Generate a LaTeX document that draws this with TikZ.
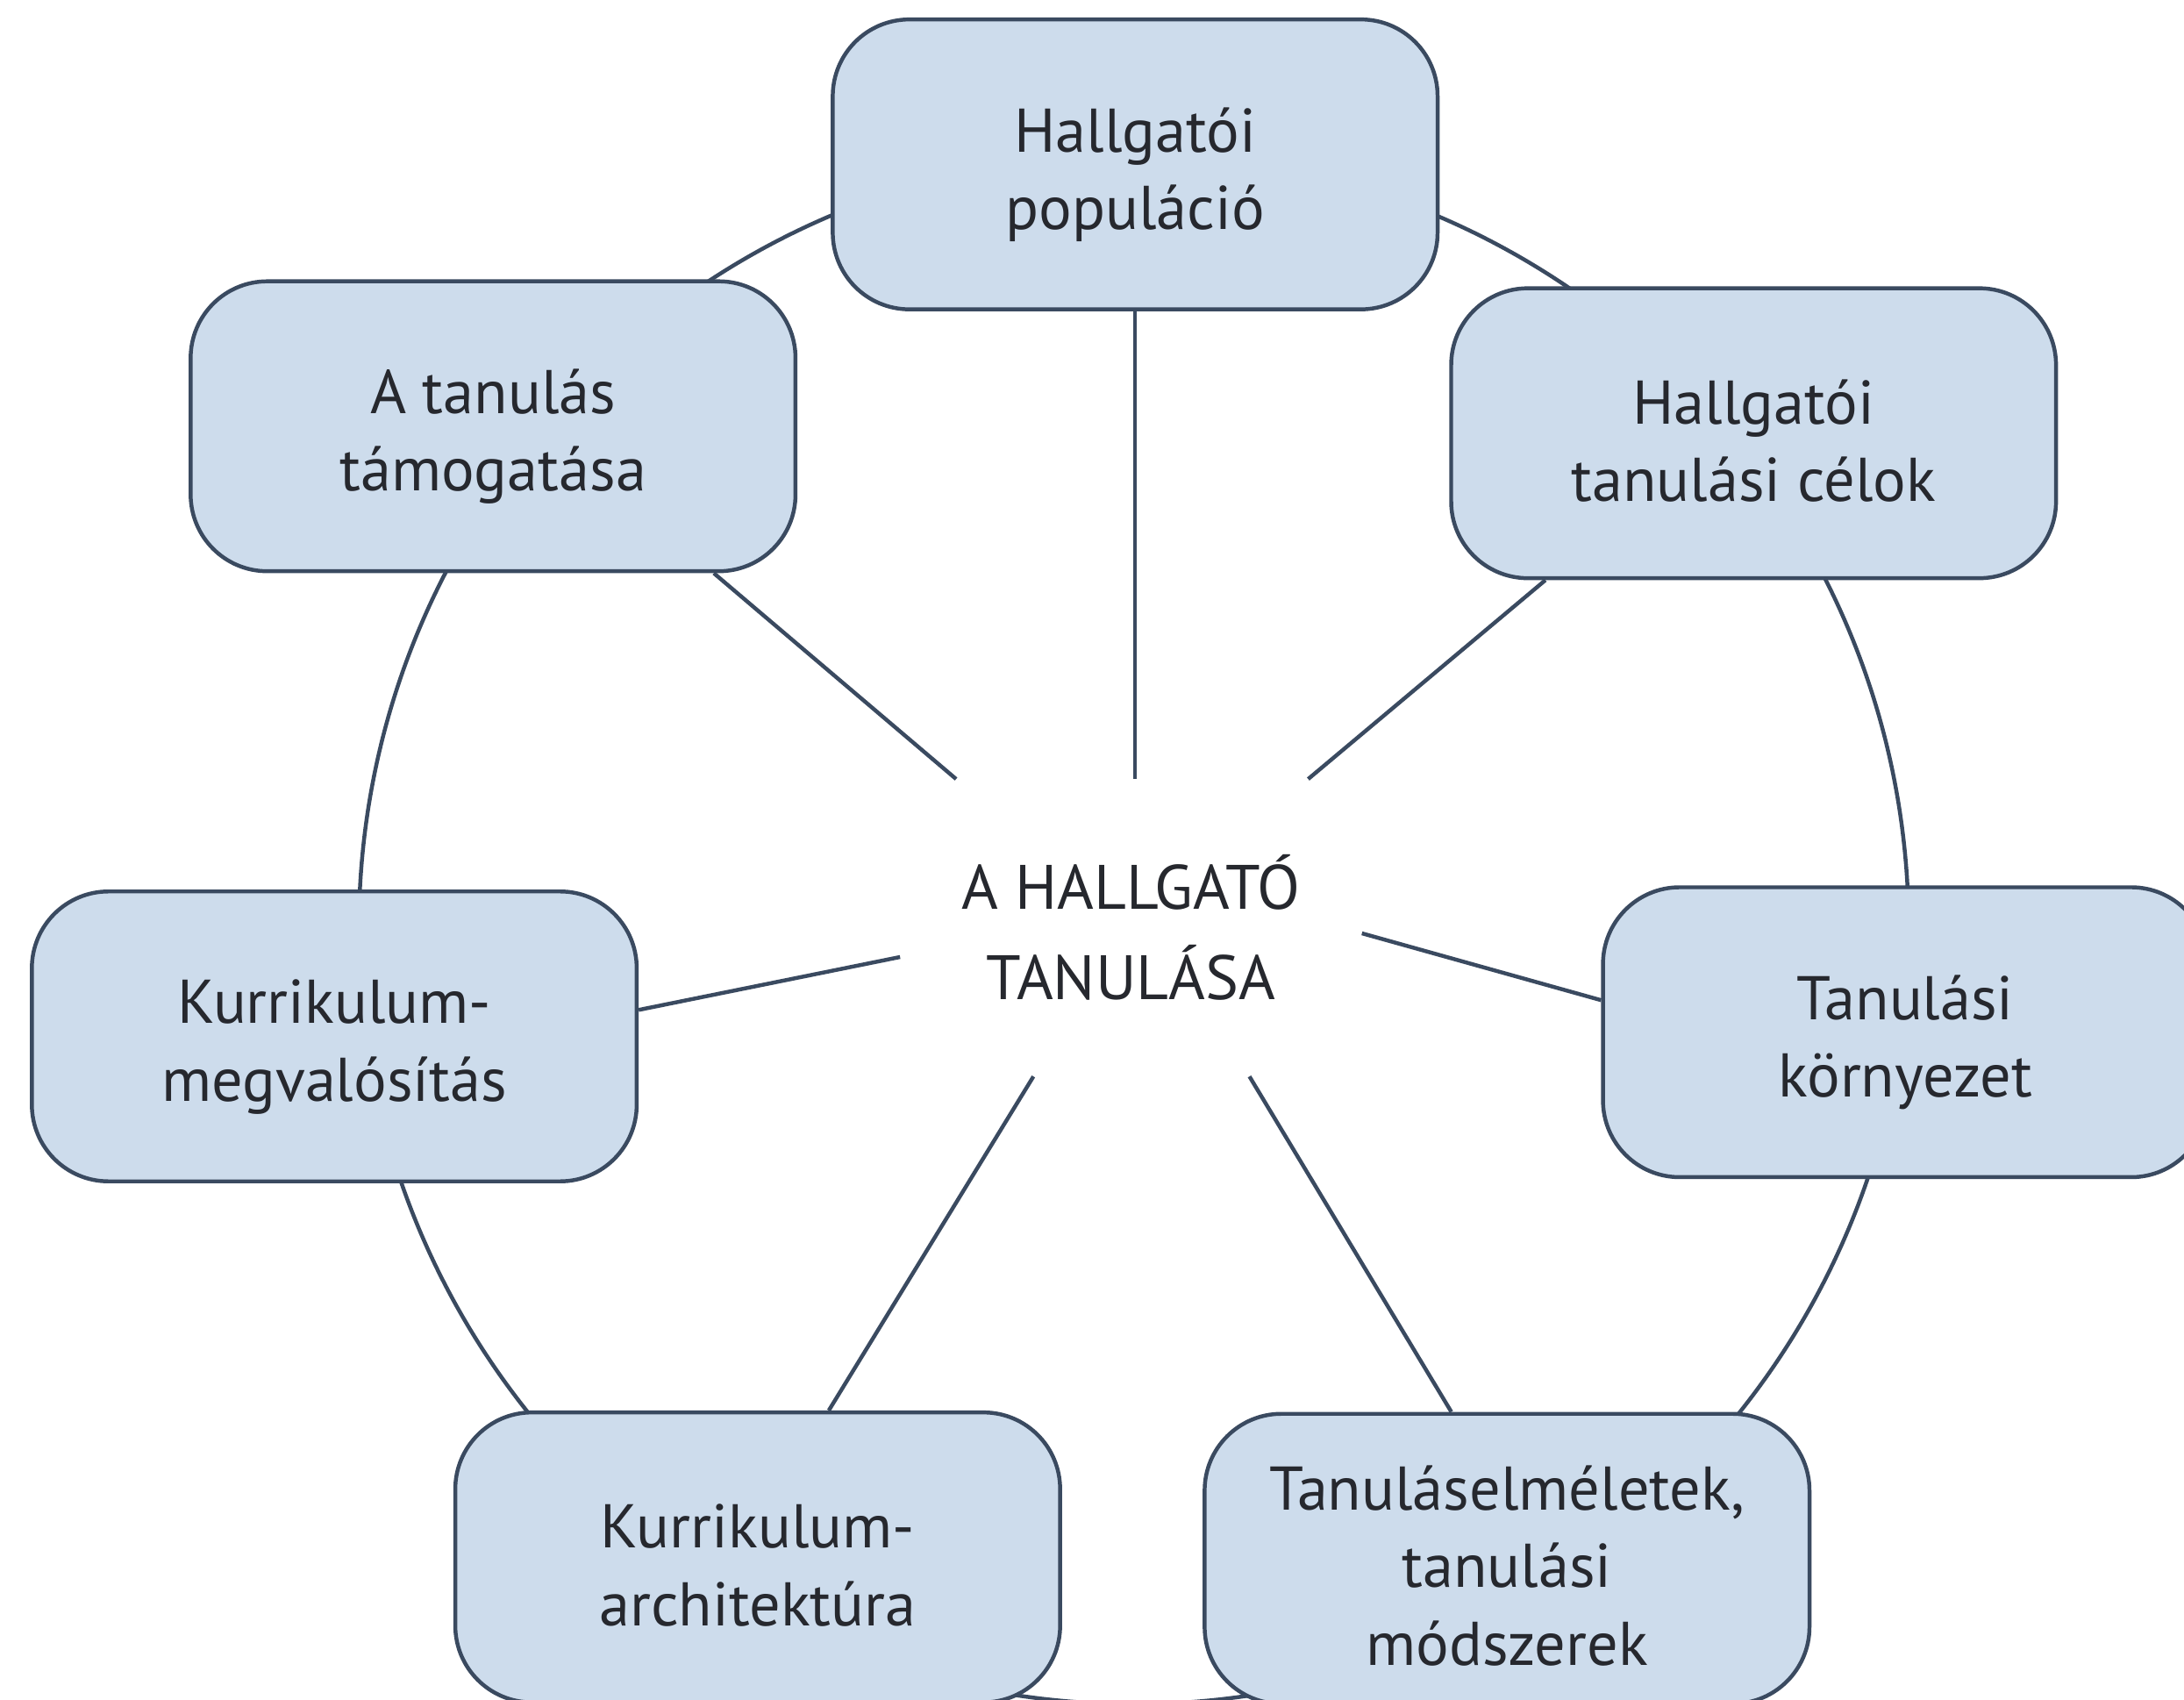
\documentclass[tikz,border=0pt]{standalone}
\usepackage{fontspec}
\setmainfont{PT Sans}
\definecolor{boxfill}{RGB}{205,220,236}
\definecolor{linecol}{RGB}{58,74,96}
\definecolor{txt}{RGB}{38,40,46}
\begin{document}
\begin{tikzpicture}[x=0.01cm,y=-0.01cm,
    elem/.style={draw=linecol,fill=boxfill,line width=0.8pt,rounded corners=0.55cm,
      minimum width=4.34cm,minimum height=2.08cm,align=center,text=txt,
      font=\fontsize{12.6}{15.8}\selectfont,text height=29pt},
    spoke/.style={draw=linecol,line width=0.8pt}]
  \useasboundingbox (0,0) rectangle (1568,1220);
  \coordinate (o) at (814,667);
  \draw[spoke] (o) circle (5.56cm);
  \node[elem] (pop) at (815,118) {Hallgatói\\populáció};
  \node[elem] (tam) at (354,306) {A tanulás\\támogatása};
  \node[elem,text height=28pt] (cel) at (1259,311) {Hallgatói\\tanulási célok};
  \node[elem] (korny) at (1368,741) {Tanulási\\környezet};
  \node[elem] (megv) at (240,744) {Kurrikulum-\\megvalósítás};
  \node[elem,text height=28pt] (arch) at (544,1118) {Kurrikulum-\\architektúra};
  \node[elem,text height=43.5pt] (modsz) at (1082,1119) {Tanuláselméletek,\\tanulási\\módszerek};
  \node[minimum width=3.3cm,minimum height=2.12cm,align=center,text=txt,
    font=\fontsize{12.8}{18.5}\selectfont] (learn) at (812,666) {A HALLGATÓ\\TANULÁSA};
  \draw[spoke] (learn.north -| pop.south) -- (pop.south);
  \draw[spoke] (learn) -- ([xshift=-0.6cm]tam.south east);
  \draw[spoke] (learn) -- ([xshift=0.69cm]cel.south west);
  \draw[spoke] ([xshift=-0.7cm]learn.south) -- ([xshift=0.51cm]arch.north);
  \draw[spoke] ([xshift=0.85cm]learn.south) -- ([xshift=-0.4cm]modsz.north);
  \draw[spoke] ([yshift=-0.21cm]learn.west) -- ([yshift=0.19cm]megv.east);
  \draw[spoke] ([yshift=-0.04cm]learn.east) -- ([yshift=0.23cm]korny.west);
\end{tikzpicture}
\end{document}
